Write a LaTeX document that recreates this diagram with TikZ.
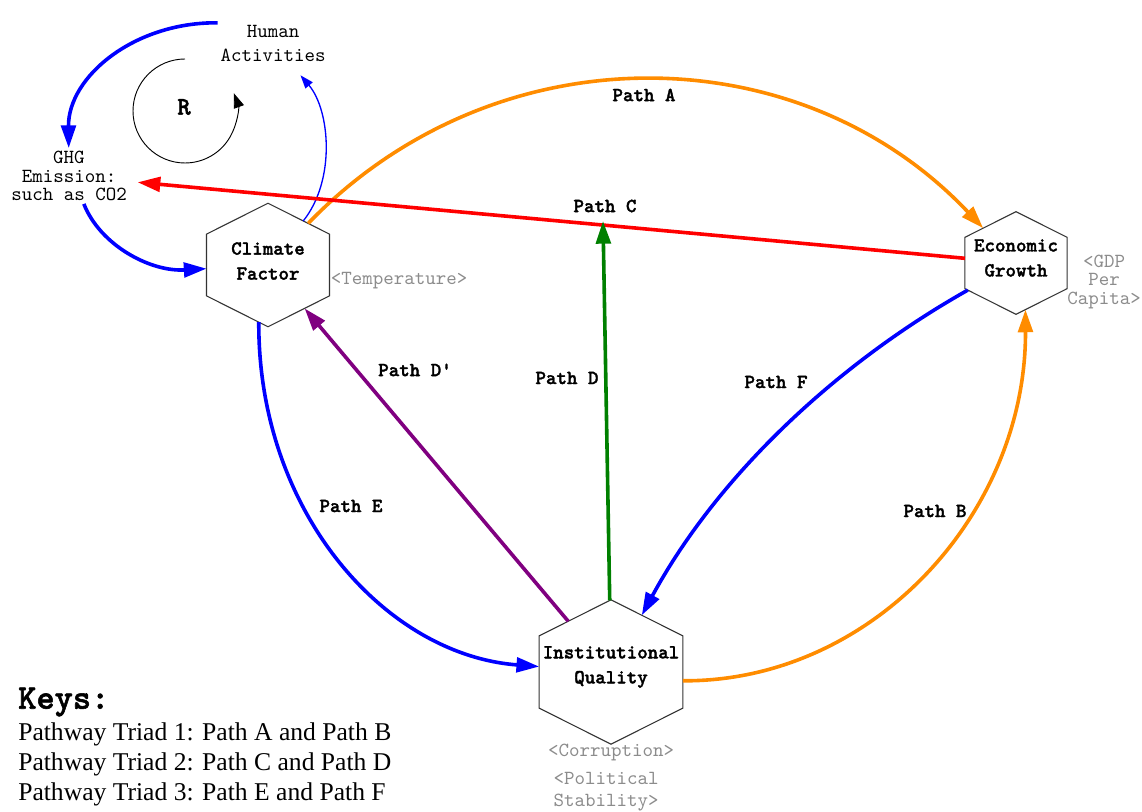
\documentclass[tikz,border=0pt]{standalone}
\usepackage{fontspec}
\setmainfont{Liberation Serif}
\setmonofont{lmmono10-regular.otf}[BoldFont=lmmonolt10-bold.otf, BoldFeatures={FakeBold=1.6}]
\usetikzlibrary{arrows.meta,shapes.geometric}
\definecolor{pathorange}{HTML}{FF8C00}
\definecolor{pathblue}{HTML}{0000FF}
\definecolor{pathred}{HTML}{FF0000}
\definecolor{pathgreen}{HTML}{008000}
\definecolor{pathpurple}{HTML}{800080}
\definecolor{hexgray}{HTML}{333333}
\definecolor{notegray}{HTML}{8C8C8C}

\begin{document}
\begin{tikzpicture}[
  x=0.75pt, y=-0.75pt,
  hexbox/.style={regular polygon, regular polygon sides=6, shape border rotate=30, draw=hexgray, line width=0.8pt, fill=white, inner sep=0pt, outer sep=0pt, yscale=0.87, transform shape},
  factor/.style={font=\ttfamily\bfseries\fontsize{15pt}{18.75pt}\selectfont, align=center, inner sep=1pt},
  txt/.style={font=\ttfamily\fontsize{15pt}{18pt}\selectfont, align=center, inner sep=2pt},
  proxy/.style={txt, text=notegray},
  pathlbl/.style={font=\ttfamily\bfseries\fontsize{15pt}{16pt}\selectfont},
  link/.style={line width=2.7pt, -{Triangle[length=17pt, width=11pt]}},
  thinlink/.style={line width=1pt, -{Triangle[length=10pt, width=7pt]}}
]
\useasboundingbox (0,0) rectangle (1142,812);

% the three factors
\node[hexbox, minimum size=106.5pt] (climate) at (268,265) {};
\node[hexbox, minimum size=88.5pt] (growth) at (1016,263) {};
\node[hexbox, minimum size=124.5pt] (quality) at (611,672) {};
\node[factor] (climate-t) at (268,261) {Climate\\Factor};
\node[factor] (growth-t) at (1016,258) {Economic\\Growth};
\node[factor] (quality-t) at (611,667) {Institutional\\Quality};

% proxies
\node[proxy] (temp) at (399,281) {<Temperature>};
\node[proxy, font=\ttfamily\fontsize{15pt}{14pt}\selectfont] (gdp) at (1104,282) {<GDP\\Per\\Capita>};
\node[proxy] (corrupt) at (611,752) {<Corruption>};
\node[proxy, font=\ttfamily\fontsize{15pt}{16.5pt}\selectfont] (stability) at (606,792) {<Political\\Stability>};

% feedback loop
\node[txt] (human) at (273,43) {Human\\Activities};
\node[txt, font=\ttfamily\fontsize{15pt}{14pt}\selectfont] (ghg) at (69,176) {GHG\\Emission:\\such as CO2};
\node[font=\ttfamily\bfseries\fontsize{19pt}{19pt}\selectfont] (loop) at (184,107) {R};
\draw[link, pathblue] (human.160) .. controls (134,22) and (68,77) .. (ghg);
\draw[link, pathblue] (ghg.-62) .. controls (100,245) and (150,272) .. (climate);
\draw[thinlink, pathblue, shorten >=11pt] (climate) .. controls (336,180) and (330,110) .. (human);
\draw[black, line width=0.7pt, -{Triangle[length=11pt, width=8pt]}] (185,59) arc[start angle=-90, end angle=-380, radius=52];

% paths
\draw[link, pathorange] (climate) .. controls (496,29) and (800,34) .. (growth);
\draw[link, pathorange] (quality.-8) .. controls (871,682) and (1026,515) .. (growth.-80);
\draw[link, pathred, shorten >=6pt] (growth) -- (ghg);
\coordinate (cmeet) at (603,221);
\draw[link, pathgreen] (quality) -- (cmeet);
\draw[link, pathpurple] (quality) -- (climate);
\draw[link, pathblue] (climate.-98) .. controls (258,513) and (386,655) .. (quality);
\draw[link, pathblue] (growth) .. controls (840,362) and (719,473) .. (quality);

\node[pathlbl] (lbl-a) at (644,95) {Path A};
\node[pathlbl] (lbl-b) at (935,511) {Path B};
\node[pathlbl] (lbl-c) at (605,206) {Path C};
\node[pathlbl] (lbl-d) at (567,378) {Path D};
\node[pathlbl] (lbl-dd) at (415,370) {Path D'};
\node[pathlbl] (lbl-e) at (351,506) {Path E};
\node[pathlbl] (lbl-f) at (776,382) {Path F};

% keys
\node[anchor=west, inner sep=0pt, font=\ttfamily\bfseries\fontsize{26pt}{26pt}\selectfont] (keys) at (18,702) {Keys:};
\node[anchor=north west, align=left, inner sep=0pt, font=\fontsize{19.2pt}{22.5pt}\selectfont] (triads) at (18,722) {Pathway Triad 1: Path A and Path B\\Pathway Triad 2: Path C and Path D\\Pathway Triad 3: Path E and Path F};
\end{tikzpicture}
\end{document}
